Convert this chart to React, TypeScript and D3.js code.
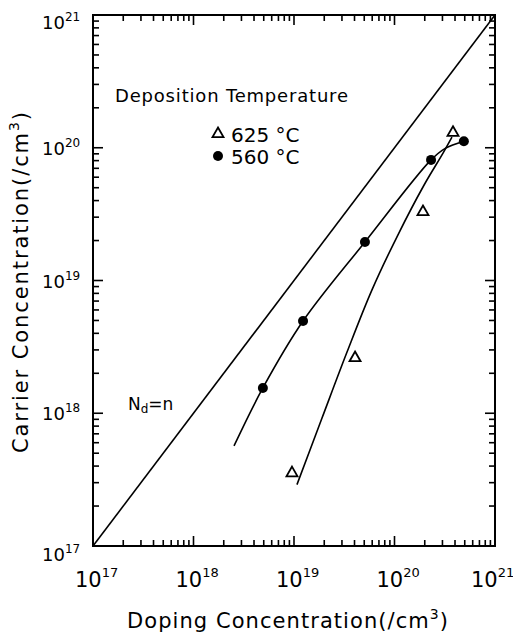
import React from 'react'
import * as d3 from 'd3'

// decade exponents for both axes
const decades = [17, 18, 19, 20, 21]
const mantissas = [1, 2, 3, 4, 5, 6, 7, 8, 9]

// 560 C samples (filled circles): doping, carrier
const dope560 = [4.9e18, 1.23e19, 5.08e19, 2.31e20, 4.9e20]
const carr560 = [1.55e18, 4.95e18, 1.95e19, 8.1e19, 1.12e20]

// 625 C samples (open triangles)
const dope625 = [9.55e18, 4.05e19, 1.92e20, 3.82e20]
const carr625 = [3.6e17, 2.65e18, 3.34e19, 1.32e20]

// hand drawn fit curves
const fit560X = [2.53e18, 4.9e18, 1.23e19, 5.08e19, 2.31e20, 3.2e20, 4.9e20]
const fit560Y = [5.67e17, 1.55e18, 4.95e18, 1.95e19, 8.1e19, 9.9e19, 1.12e20]
const fit625X = [1.07e19, 1.9e19, 3.37e19, 5.97e19, 1.08e20, 1.97e20, 3.04e20, 3.73e20]
const fit625Y = [2.9e17, 9.2e17, 2.89e18, 8.5e18, 2.2e19, 5.24e19, 9.1e19, 1.2e20]

// Nd = n reference line
const identity = [1e17, 1e21]

const W = 513
const H = 636
const X0 = 93, X1 = 495, Y0 = 546, Y1 = 15
const font = 'DejaVu Sans, Verdana, sans-serif'

const App = () => {
  const x = d3.scaleLog().domain([1e17, 1e21]).range([X0, X1])
  const y = d3.scaleLog().domain([1e17, 1e21]).range([Y0, Y1])

  // 1..9 x 10^n tick values
  const vals: number[] = []
  decades.slice(0, -1).forEach(e => {
    mantissas.forEach(m => vals.push(m * Math.pow(10, e)))
  })
  vals.push(1e21)
  const isMajor = (v: number) => Math.abs(Math.log10(v) - Math.round(Math.log10(v))) < 1e-6
  const tl = (v: number) => (isMajor(v) ? 10 : 6)

  const lineGen = d3.line<[number, number]>()
    .x(d => x(d[0]))
    .y(d => y(d[1]))
    .curve(d3.curveCatmullRom.alpha(0.5))

  const fit560 = lineGen(fit560X.map((v, i) => [v, fit560Y[i]] as [number, number]))
  const fit625 = lineGen(fit625X.map((v, i) => [v, fit625Y[i]] as [number, number]))
  const diag = d3.line<number>().x(d => x(d)).y(d => y(d))(identity)

  const tri = (cx: number, cy: number, s = 5.5) =>
    `M${cx},${cy - s}L${cx + s},${cy + s * 0.75}L${cx - s},${cy + s * 0.75}Z`

  return (
    <svg width={W} height={H} style={{ position: 'absolute', left: 0, top: 0 }} fontFamily={font}>
      {/* frame */}
      <rect x={X0} y={Y1} width={X1 - X0} height={Y0 - Y1} fill="none" stroke="#000" strokeWidth={2} />

      {/* ticks, inward on all four sides */}
      {vals.map((v, i) => (
        <line key={'b' + i} x1={x(v)} x2={x(v)} y1={Y0} y2={Y0 - tl(v)} stroke="#000" strokeWidth={1.6} />
      ))}
      {vals.map((v, i) => (
        <line key={'t' + i} x1={x(v)} x2={x(v)} y1={Y1} y2={Y1 + tl(v)} stroke="#000" strokeWidth={1.6} />
      ))}
      {vals.map((v, i) => (
        <line key={'l' + i} x1={X0} x2={X0 + tl(v)} y1={y(v)} y2={y(v)} stroke="#000" strokeWidth={1.6} />
      ))}
      {vals.map((v, i) => (
        <line key={'r' + i} x1={X1} x2={X1 - tl(v)} y1={y(v)} y2={y(v)} stroke="#000" strokeWidth={1.6} />
      ))}

      {/* x tick labels */}
      {decades.map(e => (
        <text key={'xl' + e} x={Math.min(x(Math.pow(10, e)) - 18, 471)} y={587} fontSize={21}>
          10<tspan dy={-10} fontSize={13}>{e}</tspan>
        </text>
      ))}

      {/* y tick labels */}
      {decades.map(e => (
        <text key={'yl' + e} x={42} y={y(Math.pow(10, e)) + (e === 17 ? 15 : e === 21 ? 14 : 7)}
          fontSize={18}>
          10<tspan dy={-8} fontSize={12}>{e}</tspan>
        </text>
      ))}

      {/* curves */}
      <path d={diag ?? ''} fill="none" stroke="#000" strokeWidth={1.6} />
      <path d={fit560 ?? ''} fill="none" stroke="#000" strokeWidth={1.6} />
      <path d={fit625 ?? ''} fill="none" stroke="#000" strokeWidth={1.6} />

      {/* points */}
      {dope560.map((v, i) => (
        <circle key={'c' + i} cx={x(v)} cy={y(carr560[i])} r={5} fill="#000" />
      ))}
      {dope625.map((v, i) => (
        <path key={'p' + i} d={tri(x(v), y(carr625[i]))} fill="#fff" stroke="#000" strokeWidth={1.8} />
      ))}

      {/* legend */}
      <text x={115} y={102} fontSize={18} textLength={233}>Deposition Temperature</text>
      <path d={tri(218, 133)} fill="#fff" stroke="#000" strokeWidth={1.8} />
      <text x={231} y={142} fontSize={20}>625 °C</text>
      <circle cx={218} cy={156} r={5} fill="#000" />
      <text x={231} y={164} fontSize={20}>560 °C</text>

      <text x={128} y={410} fontSize={17}>N<tspan dy={3} fontSize={12}>d</tspan><tspan dy={-3}>=n</tspan></text>

      {/* axis titles */}
      <text x={127} y={628} fontSize={21} textLength={321}>
        Doping Concentration(/cm<tspan dy={-9} fontSize={14}>3</tspan><tspan dy={9}>)</tspan>
      </text>
      <text transform="translate(28,453) rotate(-90)" fontSize={21} textLength={341}>
        Carrier Concentration(/cm<tspan dy={-9} fontSize={14}>3</tspan><tspan dy={9}>)</tspan>
      </text>
    </svg>
  )
}

export default App
